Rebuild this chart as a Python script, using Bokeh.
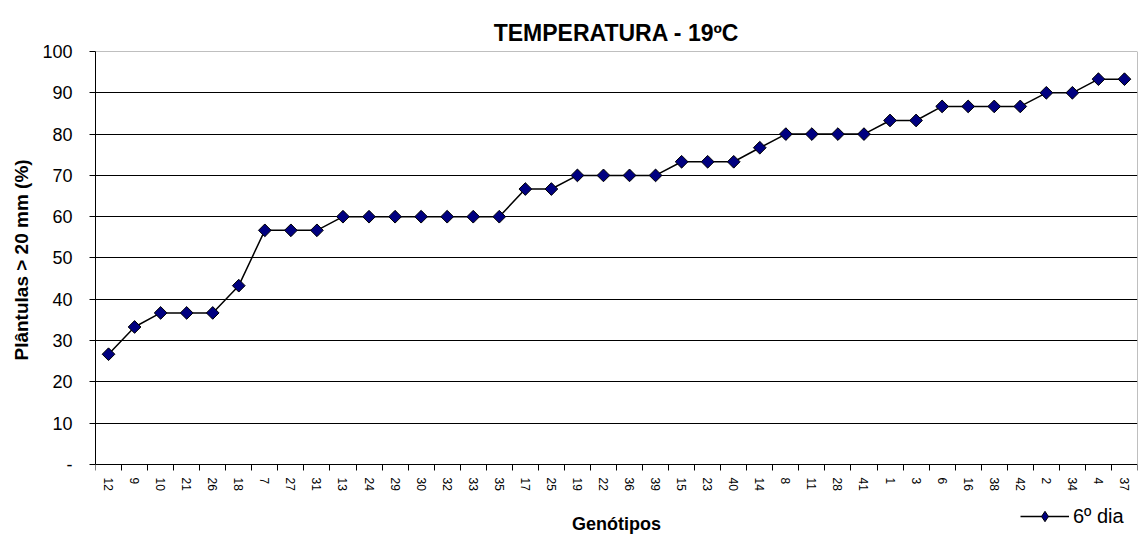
from bokeh.plotting import figure
from bokeh.models import (FixedTicker, Range1d, ColumnDataSource, Legend, LegendItem,
                          LinearAxis, Title)
from bokeh.embed import file_html
from bokeh.resources import INLINE

genotipos = ["12", "9", "10", "21", "26", "18", "7", "27", "31", "13", "24", "29", "30", "32",
             "33", "35", "17", "25", "19", "22", "36", "39", "15", "23", "40", "14", "8", "11",
             "28", "41", "1", "3", "6", "16", "38", "42", "2", "34", "4", "37"]
dia6 = [26.7, 33.3, 36.7, 36.7, 36.7, 43.3, 56.7, 56.7, 56.7, 60, 60, 60, 60, 60,
        60, 60, 66.7, 66.7, 70, 70, 70, 70, 73.3, 73.3, 73.3, 76.7, 80, 80,
        80, 80, 83.3, 83.3, 86.7, 86.7, 86.7, 86.7, 90, 90, 93.3, 93.3]
y_ticks = [0, 10, 20, 30, 40, 50, 60, 70, 80, 90, 100]
y_labels = ["-", "10", "20", "30", "40", "50", "60", "70", "80", "90", "100"]

FONT = "Liberation Sans"
n = len(genotipos)
xs = [i + 0.5 for i in range(n)]
src = ColumnDataSource(dict(x=xs, y=dia6))

# frame spans from y=51 to the bottom of the canvas; the value axis runs 0..100 (y=464..51)
Y_MIN = -18.16
p = figure(width=1141, height=539, output_backend="svg", toolbar_location=None,
           x_range=Range1d(0, n), y_range=Range1d(Y_MIN, 100),
           x_axis_location=None,
           min_border_left=95, min_border_right=4, min_border_top=51, min_border_bottom=0)
p.outline_line_color = None
p.background_fill_color = "white"
p.border_fill_color = "white"

p.title.text = "TEMPERATURA - 19ºC"
p.title.align = "center"
p.title.text_font = FONT
p.title.text_font_size = "23px"
p.title.text_font_style = "bold"
p.title.text_color = "black"
p.title.offset = -4
p.title.standoff = 11

# grids
p.xgrid.grid_line_color = None
p.ygrid.ticker = FixedTicker(ticks=y_ticks[1:-1])
p.ygrid.grid_line_color = "black"
p.ygrid.grid_line_width = 1

# x axis drawn at y = 0
xaxis = LinearAxis(fixed_location=0, bounds=(0, n))
xaxis.ticker = FixedTicker(ticks=xs, minor_ticks=list(range(n + 1)))
xaxis.major_label_overrides = {x: g for x, g in zip(xs, genotipos)}
xaxis.major_label_orientation = "vertical"
xaxis.major_tick_line_color = None
xaxis.major_tick_out = 0
xaxis.major_tick_in = 0
xaxis.minor_tick_out = 6
xaxis.minor_tick_in = 0
xaxis.minor_tick_line_color = "black"
xaxis.axis_line_color = "black"
xaxis.major_label_text_font = FONT
xaxis.major_label_text_font_size = "12px"
xaxis.major_label_text_color = "black"
xaxis.major_label_standoff = 7
xaxis.axis_label = "Genótipos"
xaxis.axis_label_text_font = FONT
xaxis.axis_label_text_font_size = "18px"
xaxis.axis_label_text_font_style = "bold"
xaxis.axis_label_text_color = "black"
xaxis.axis_label_standoff = 20
p.add_layout(xaxis, "below")

# y axis
p.yaxis.bounds = (0, 100)
p.yaxis.ticker = FixedTicker(ticks=y_ticks, minor_ticks=[])
p.yaxis.major_label_overrides = {t: l for t, l in zip(y_ticks, y_labels)}
p.yaxis.major_tick_out = 6
p.yaxis.major_tick_in = 0
p.yaxis.major_tick_line_color = "black"
p.yaxis.axis_line_color = "black"
p.yaxis.major_label_text_font = FONT
p.yaxis.major_label_text_font_size = "18px"
p.yaxis.major_label_text_color = "black"
p.yaxis.major_label_standoff = 17

ylabel = Title(text="Plântulas > 20 mm (%)", align="left", offset=179, standoff=16,
               text_font=FONT, text_font_size="19px", text_font_style="bold",
               text_color="black")
p.add_layout(ylabel, "left")

# plot-area border (top and right) in grey
top_border = LinearAxis(fixed_location=100, bounds=(0, n), ticker=FixedTicker(ticks=[]),
                        axis_line_color="#808080", major_tick_line_color=None,
                        minor_tick_line_color=None)
p.add_layout(top_border, "above")
right_border = LinearAxis(fixed_location=n, bounds=(0, 100), ticker=FixedTicker(ticks=[]),
                          axis_line_color="#808080", major_tick_line_color=None,
                          minor_tick_line_color=None)
p.add_layout(right_border, "right")

line = p.line("x", "y", source=src, line_color="black", line_width=1.5)
# diamond key for the legend, drawn beneath (and hidden by) the rotated-square markers
key = p.scatter("x", "y", source=src, marker="diamond", size=11, fill_color="#000080",
                line_color="black", line_width=1)
pts = p.scatter("x", "y", source=src, marker="square", angle=0.785398, size=9,
                fill_color="#000080", line_color="black", line_width=1)

legend = Legend(items=[LegendItem(label="6º dia", renderers=[line, key])],
                location=(925, 10), orientation="horizontal",
                label_text_font=FONT, label_text_font_size="20px", label_text_color="black",
                background_fill_alpha=0, border_line_color=None,
                glyph_width=49, glyph_height=26, label_standoff=4, padding=0, margin=0)
p.add_layout(legend, "center")

open("out.html", "w").write(file_html(p, INLINE))
